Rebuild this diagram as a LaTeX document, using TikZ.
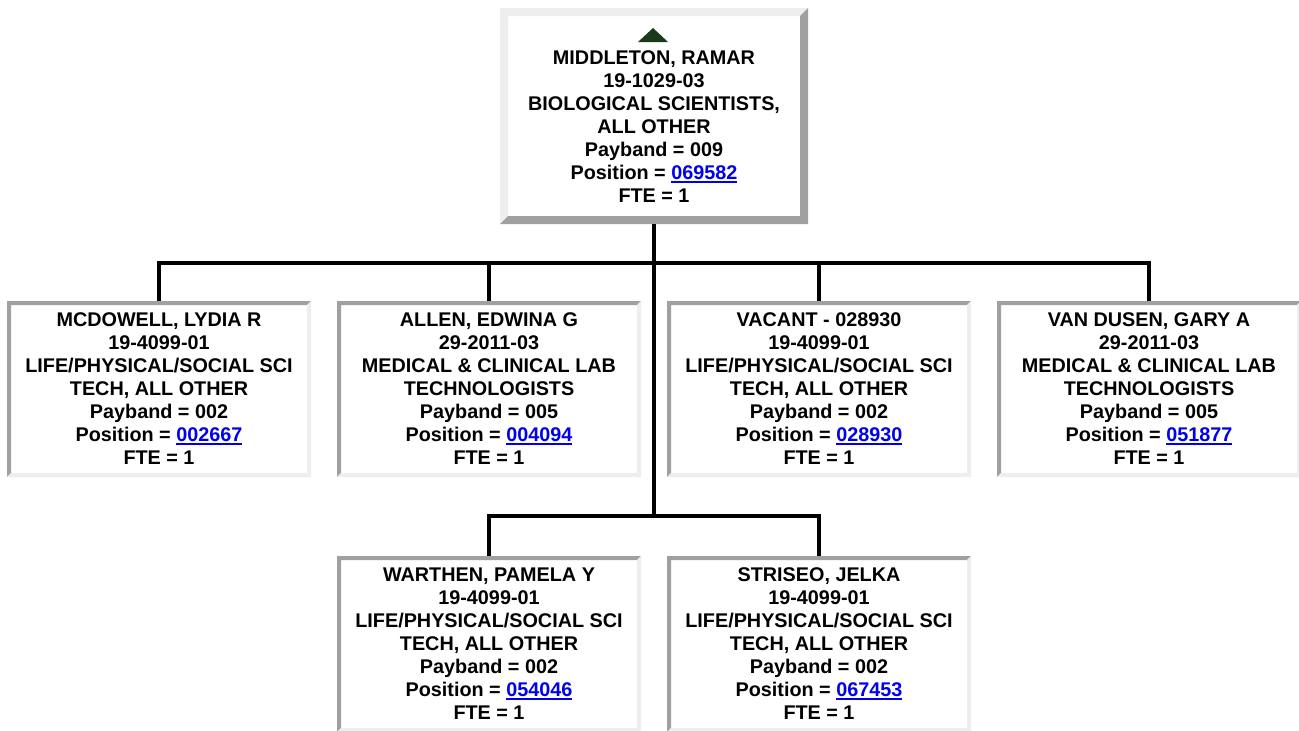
\documentclass[tikz,border=0pt]{standalone}
\usepackage{fontspec}
\setmainfont{Liberation Sans}
\usetikzlibrary{calc}
\definecolor{dk}{HTML}{A0A0A0}
\definecolor{lt}{HTML}{EEEEEE}
\definecolor{lnkblue}{HTML}{0000EE}
\definecolor{tri}{HTML}{1A3A1A}
\newcommand{\lnk}[1]{\textcolor{lnkblue}{\setbox0\hbox{#1}\rlap{\rule[-1.6pt]{\wd0}{0.9pt}}\box0}}
\tikzset{
  cbox/.style={fill=white, inner sep=0pt, outer sep=0pt, minimum width=148pt, minimum height=84pt,
    align=center, font=\fontsize{9.9}{11.5}\selectfont\bfseries},
  tbox/.style={fill=white, inner sep=0pt, outer sep=0pt, minimum width=146pt, minimum height=100pt},
  ttext/.style={inner sep=0pt, align=center, font=\fontsize{9.9}{11.5}\selectfont\bfseries},
  conn/.style={draw=black, line width=2pt}
}
% inset box: dark top/left, light right/bottom (4px)
\newcommand{\insetbox}[4]{%
  \node[cbox] (#1) at (#2,#3) {#4};
  \fill[dk] ([shift={(-2pt,2pt)}]#1.north west) -- ([shift={(2pt,2pt)}]#1.north east) -- (#1.north east) -- (#1.north west) -- (#1.south west) -- ([shift={(-2pt,-2pt)}]#1.south west) -- cycle;
  \fill[lt] ([shift={(2pt,2pt)}]#1.north east) -- ([shift={(2pt,-2pt)}]#1.south east) -- ([shift={(-2pt,-2pt)}]#1.south west) -- (#1.south west) -- (#1.south east) -- (#1.north east) -- cycle;
}
\begin{document}
\begin{tikzpicture}[x=0.5pt,y=-0.5pt]
\fill[white] (0,0) rectangle (1299,730);
\useasboundingbox (0,0) rectangle (1299,730);
\begin{scope}
\clip (0,0) rectangle (1299,730);
% top box (outset)
\node[tbox] (top) at (654,116) {};
\fill[lt] ([shift={(-4pt,4pt)}]top.north west) -- ([shift={(4pt,4pt)}]top.north east) -- (top.north east) -- (top.north west) -- (top.south west) -- ([shift={(-4pt,-4pt)}]top.south west) -- cycle;
\fill[dk] ([shift={(4pt,4pt)}]top.north east) -- ([shift={(4pt,-4pt)}]top.south east) -- ([shift={(-4pt,-4pt)}]top.south west) -- (top.south west) -- (top.south east) -- (top.north east) -- cycle;
\coordinate (tra) at (653,28);
\fill[tri] (tra) -- ++(15,14) -- ++(-30,0) -- cycle;
\node[ttext] (toptext) at (654,127) {MIDDLETON, RAMAR\\19-1029-03\\BIOLOGICAL SCIENTISTS,\\ALL OTHER\\Payband = 009\\Position = \lnk{069582}\\FTE = 1};
% children
\insetbox{c1}{159}{389}{MCDOWELL, LYDIA R\\19-4099-01\\LIFE/PHYSICAL/SOCIAL SCI\\TECH, ALL OTHER\\Payband = 002\\Position = \lnk{002667}\\FTE = 1}
\insetbox{c2}{489}{389}{ALLEN, EDWINA G\\29-2011-03\\MEDICAL \& CLINICAL LAB\\TECHNOLOGISTS\\Payband = 005\\Position = \lnk{004094}\\FTE = 1}
\insetbox{c3}{819}{389}{VACANT - 028930\\19-4099-01\\LIFE/PHYSICAL/SOCIAL SCI\\TECH, ALL OTHER\\Payband = 002\\Position = \lnk{028930}\\FTE = 1}
\insetbox{c4}{1149}{389}{VAN DUSEN, GARY A\\29-2011-03\\MEDICAL \& CLINICAL LAB\\TECHNOLOGISTS\\Payband = 005\\Position = \lnk{051877}\\FTE = 1}
\insetbox{c5}{489}{644}{WARTHEN, PAMELA Y\\19-4099-01\\LIFE/PHYSICAL/SOCIAL SCI\\TECH, ALL OTHER\\Payband = 002\\Position = \lnk{054046}\\FTE = 1}
\insetbox{c6}{819}{644}{STRISEO, JELKA\\19-4099-01\\LIFE/PHYSICAL/SOCIAL SCI\\TECH, ALL OTHER\\Payband = 002\\Position = \lnk{067453}\\FTE = 1}
% connectors
\coordinate (b1) at (654,263);
\coordinate (b2) at (654,516);
\draw[conn] ([yshift=-4pt]top.south) -- (b2);
\draw[conn] ([yshift=2pt]c1.north) |- (b1) -| ([yshift=2pt]c4.north);
\draw[conn] ([yshift=2pt]c2.north) -- (c2.north |- b1);
\draw[conn] ([yshift=2pt]c3.north) -- (c3.north |- b1);
\draw[conn] ([yshift=2pt]c5.north) |- (b2) -| ([yshift=2pt]c6.north);
\end{scope}
\end{tikzpicture}
\end{document}
